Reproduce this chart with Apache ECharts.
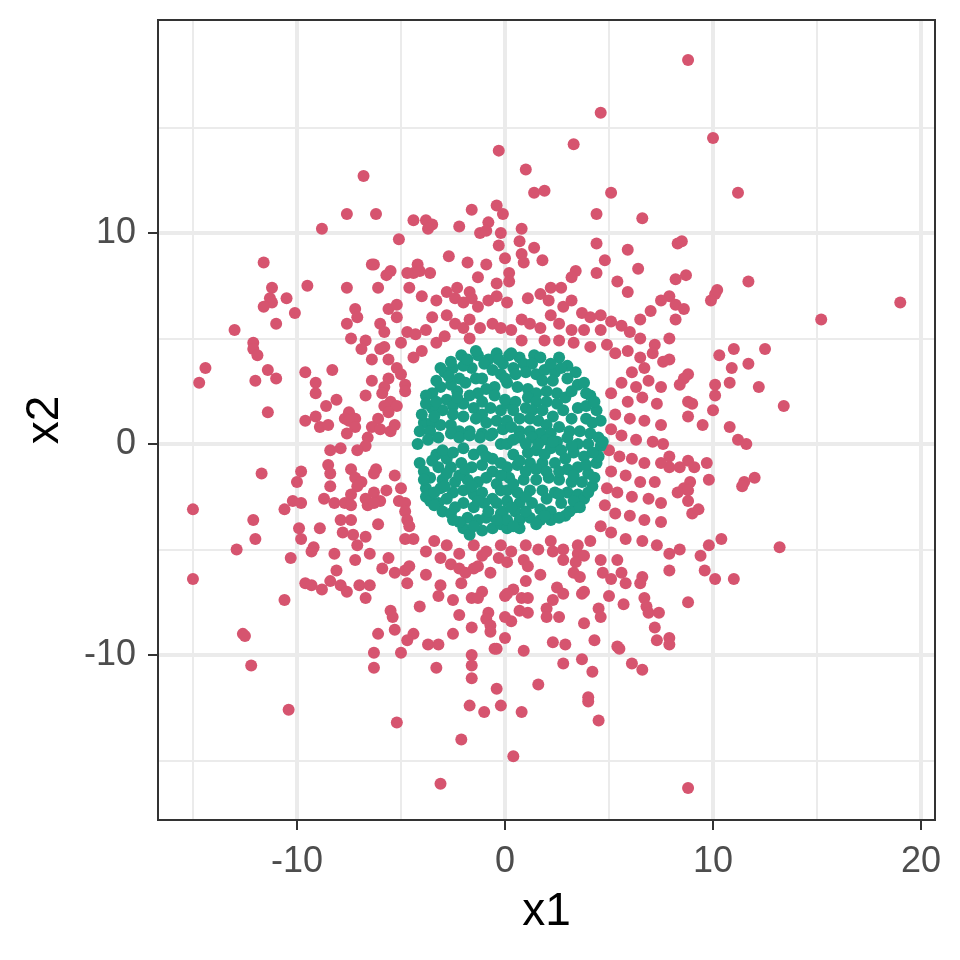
<!DOCTYPE html>
<html><head><meta charset="utf-8">
<script src="https://cdn.jsdelivr.net/npm/echarts@6/dist/echarts.min.js"></script>
<style>html,body{margin:0;padding:0;background:#fff}#c{width:960px;height:960px}</style>
</head><body><div id="c"></div>
<script>
const xTickLabels=[-10,0,10,20];
const yTickLabels=[-10,0,10];
const outerPoints=[
[8.8,18.2],[4.6,15.7],[10.0,14.5],[3.3,14.2],[-0.3,13.9],[1.0,13.0],[-6.8,12.7],[1.4,11.9],[1.9,12.0],[5.1,11.9],[11.2,11.9],[-7.6,10.9],[-6.2,10.9],[-1.6,11.1],[-0.4,11.3],[-0.1,10.9],[4.4,10.9],[6.6,10.7],[-8.8,10.2],[-4.4,10.6],[-3.8,10.6],[-3.5,10.4],[-3.7,10.2],[-2.2,10.3],[-0.8,10.5],[-1.2,10.0],[-0.9,10.1],[-0.2,10.0],[0.8,10.2],[-5.1,9.7],[4.4,9.5],[5.9,9.2],[8.3,9.5],[8.5,9.6],[-0.3,9.4],[0.7,9.6],[1.4,9.3],[4.8,8.7],[6.4,8.3],[4.4,8.1],[5.4,7.7],[8.2,7.8],[8.7,8.0],[11.7,7.7],[10.2,7.3],[0.0,8.8],[0.8,9.0],[0.9,8.6],[1.8,8.7],[-2.7,8.9],[-1.8,8.6],[-0.9,8.5],[-1.3,7.9],[0.2,8.1],[0.2,7.7],[-0.4,7.6],[-4.2,8.5],[-4.1,8.2],[-4.4,8.1],[-3.6,8.1],[-2.3,7.4],[-2.8,7.2],[-1.7,7.2],[2.2,7.4],[2.7,7.4],[3.4,8.2],[3.2,7.9],[5.9,7.2],[-11.6,8.6],[-6.3,8.5],[-6.4,8.5],[-5.5,8.2],[-5.7,8.0],[-4.7,8.1],[-11.2,7.4],[-9.5,7.5],[-7.6,7.4],[-6.1,7.4],[-4.6,7.4],
[-11.3,6.9],[-11.2,6.7],[-11.6,6.5],[-10.5,6.9],[-10.1,6.2],[-11.0,5.7],[-13.0,5.4],[-7.2,6.4],[-7.1,6.0],[-7.6,5.7],[-5.6,6.4],[-5.2,6.6],[-5.2,6.0],[-6.0,5.7],[-5.8,5.3],[-7.4,5.0],[-6.7,4.9],[-6.9,4.5],[-5.8,4.6],[-6.0,4.5],[-5.0,4.8],[-4.7,5.3],[-4.3,5.2],[-6.4,4.0],[-5.6,4.0],[-5.2,3.6],[-5.0,3.3],[-4.4,4.1],[-12.1,4.8],[-12.1,4.5],[-11.9,4.2],[-14.4,3.6],[-14.7,2.9],[-11.4,3.5],[-11.0,3.1],[-12.0,3.0],[-9.6,3.4],[-9.1,2.9],[-9.1,2.4],[-8.3,3.5],[-6.4,3.0],[-5.6,3.1],[-5.8,2.7],[-5.9,2.4],[-4.8,2.8],[-4.8,2.5],[-6.7,2.3],[-8.1,2.1],[-8.6,1.8],[-5.5,2.0],[-5.2,1.8],[-5.8,1.8],[-5.6,1.5],[-11.4,1.5],[-7.5,1.5],[-7.7,1.2],[-7.2,1.2],[-7.5,1.1],[-9.6,1.1],[-9.1,1.3],[-8.9,0.8],[-8.5,0.9],[-6.1,1.2],[-6.4,0.8],[-6.0,0.7],[-5.5,0.6],[-5.3,0.9],[-7.2,0.8],[-7.6,0.5],[-6.6,0.3],[-6.7,-0.1],[-7.1,-0.3],[-8.4,-0.3],[-7.9,-0.2],[-11.7,-1.4],[-9.8,-1.3],[-10.0,-1.8],[-8.5,-1.0],[-8.4,-1.4],[-7.4,-1.2],[-7.2,-1.6],[-6.9,-1.8],[-7.1,-2.0],[-7.4,-2.4],[-6.2,-1.2],[-6.3,-1.4],[-5.3,-1.5],[-8.4,-2.0],[-5.0,-2.1],[-8.7,-2.6],[-8.2,-2.8],[-7.7,-2.8],[-7.4,-2.9],[-6.7,-2.6],[-6.3,-2.3],[-5.7,-2.2],[-6.0,-2.7],[-6.6,-2.9],[-6.3,-2.8],[-10.2,-2.7],[-9.8,-2.8],[-10.6,-3.1],[-15.0,-3.1],[-5.1,-2.7],[-4.8,-2.8],[-4.8,-3.2],[-4.7,-3.6],[-4.6,-3.9],[-12.1,-3.6],[-7.9,-3.6],[-7.4,-3.6],[-6.1,-3.8],[-9.9,-4.0],[-9.8,-4.5],[-8.9,-4.0],[-7.8,-4.2],[-7.3,-4.3],[-6.7,-4.4],[-12.0,-4.5],[-4.8,-4.5],[-4.4,-4.5],[-12.9,-5.0],[-9.2,-4.9],[-8.2,-5.2],[-7.1,-4.8],[-6.5,-5.2],[-7.2,-5.5],[-5.6,-5.4],[-10.3,-5.4],
[7.9,7.0],[8.2,6.6],[8.6,6.4],[8.2,5.9],[10.1,7.1],[9.9,6.8],[15.2,5.9],[19.0,6.7],[7.9,5.0],[7.9,4.0],[10.3,4.2],[11.0,4.5],[12.5,4.5],[11.7,3.8],[10.9,3.6],[10.8,2.9],[12.2,2.7],[8.8,3.3],[8.6,3.1],[8.4,2.8],[10.1,2.8],[10.1,2.3],[10.0,1.6],[13.4,1.8],[8.8,2.0],[9.0,1.9],[8.8,1.3],[9.5,0.9],[10.8,0.8],[11.2,0.2],[11.6,0.0],[7.9,-0.6],[7.9,-1.1],[8.8,-0.8],[9.1,-1.1],[9.7,-0.9],[8.4,-1.1],[8.9,-1.8],[8.6,-2.1],[8.8,-2.2],[8.3,-2.3],[9.8,-1.7],[12.0,-1.6],[11.5,-1.8],[11.4,-2.0],[8.8,-2.7],[9.0,-3.3],[9.3,-3.1],[10.4,-4.5],[9.8,-4.8],[8.4,-5.0],[7.9,-5.2],[9.4,-5.3],[13.2,-4.9],
[-15.0,-6.4],[-9.3,-5.1],[-5.9,-5.9],[-5.3,-6.1],[-4.8,-6.0],[-4.6,-5.8],[-4.7,-6.6],[-9.6,-6.6],[-9.3,-6.7],[-8.8,-6.9],[-8.4,-6.5],[-8.1,-6.0],[-7.9,-6.7],[-7.6,-7.0],[-7.0,-6.7],[-6.5,-6.7],[-6.7,-7.3],[-10.6,-7.4],[-5.5,-7.9],[-5.4,-8.2],[-4.1,-7.7],[-12.6,-9.0],[-12.5,-9.1],[-6.1,-9.0],[-5.3,-8.8],[-4.4,-9.0],[-4.7,-9.3],[-6.3,-9.9],[-5.0,-9.9],[-6.3,-10.6],[-12.2,-10.5],[-10.4,-12.6],[-5.2,-13.2],
[-2.6,-5.7],[-2.2,-5.9],[-1.9,-6.1],[-1.5,-5.9],[-1.3,-5.8],[-0.7,-6.1],[-1.1,-5.3],[-0.3,-5.4],[0.1,-5.6],[0.9,-5.5],[1.1,-5.8],[1.7,-6.2],[2.3,-5.1],[2.8,-5.5],[3.5,-5.2],[3.8,-5.3],[3.4,-5.6],[4.6,-5.5],[4.7,-6.1],[3.3,-6.1],[3.6,-6.3],[5.4,-5.5],[5.6,-6.1],[5.1,-6.4],[5.8,-6.6],[6.6,-6.3],[6.5,-6.6],[7.9,-6.0],[-3.8,-6.2],[-3.1,-6.7],[-3.2,-7.2],[-2.5,-7.4],[-2.1,-6.6],[-1.6,-7.3],[-1.1,-7.0],[-1.3,-7.3],[-2.2,-8.1],[0.0,-7.2],[0.4,-6.9],[0.1,-7.1],[0.8,-7.3],[1.1,-7.3],[1.0,-6.5],[2.5,-6.8],[2.8,-7.1],[2.3,-7.4],[2.0,-7.8],[2.0,-8.2],[2.6,-8.2],[3.7,-7.1],[3.8,-7.0],[5.0,-7.2],[5.7,-7.6],[4.5,-7.8],[4.6,-8.2],[6.7,-7.3],[6.8,-7.7],[6.9,-8.0],[7.4,-8.0],[-0.8,-8.0],[-0.9,-8.3],[-0.7,-8.6],[-0.7,-8.9],[0.0,-8.2],[0.3,-8.4],[0.7,-7.9],[1.1,-8.0],[-1.6,-8.7],[-2.5,-9.0],[-3.7,-9.5],[-3.2,-9.5],[3.8,-8.5],[7.2,-8.7],[0.0,-9.2],[-0.5,-9.7],[-0.4,-9.7],[0.9,-9.8],[2.3,-9.4],[2.9,-9.5],[4.3,-9.3],[7.3,-9.3],[7.9,-9.2],[7.9,-9.5],[5.4,-9.6],[5.5,-9.7],[-1.6,-10.0],[-1.6,-10.5],[-1.6,-11.1],[-3.3,-10.6],[2.8,-10.4],[3.7,-10.2],[4.2,-10.8],[6.1,-10.4],[6.6,-10.7],[1.6,-11.4],[-0.4,-11.6],[-1.7,-12.4],[-1.0,-12.7],[-0.2,-12.4],[0.8,-12.7],[4.0,-12.0],[4.0,-12.2],[4.5,-13.1],[-2.1,-14.0],[0.4,-14.8],[-3.1,-16.1],
[9.6,-6.0],[10.1,-6.4],[11.0,-6.4],[8.8,-7.5],[8.8,-16.3],
[-4.0,7.0],[-3.3,6.8],[-2.4,6.9],[-2.0,6.7],[-1.6,6.9],[-1.3,6.5],[-0.8,6.8],[-0.4,7.0],[0.1,6.7],[1.1,6.9],[1.7,7.1],[2.1,6.8],[2.8,6.5],[3.2,6.8],[3.7,6.2],[4.1,6.0],[4.6,6.1],[5.1,5.8],[5.6,5.6],[6.0,5.3],[6.5,5.0],[7.2,4.7],[7.5,6.8],[7.0,6.3],[6.5,5.9],[-3.5,6.0],[-2.8,6.1],[-2.4,5.7],[-2.0,5.5],[-1.7,5.9],[-1.2,5.5],[-0.6,5.7],[-0.2,5.5],[0.3,5.4],[0.8,5.9],[1.2,5.7],[1.7,5.5],[2.2,6.1],[2.6,5.7],[3.2,5.4],[3.8,5.4],[4.6,5.4],[-3.8,5.4],[-3.3,4.8],[-2.9,5.1],[-1.7,5.0],[0.8,4.9],[1.9,4.9],[2.6,4.9],[3.3,4.8],[4.1,4.6],
[4.9,4.7],[5.3,4.3],[5.9,4.4],[6.5,4.1],[7.1,4.3],[7.6,3.9],[6.7,3.6],[6.1,3.4],[5.6,2.9],[6.3,2.7],[6.9,3.0],[7.5,2.7],[5.1,2.4],[5.9,2.0],[6.6,2.2],[7.3,1.9],[5.3,1.4],[6.0,1.2],[6.7,1.1],[7.5,0.9],[5.1,0.7],[5.6,0.4],[6.3,0.2],[7.1,0.1],[7.6,0.0],[5.0,-0.3],[5.5,-0.6],[6.1,-0.7],[6.7,-0.9],[7.5,-0.9],[5.1,-1.3],[5.8,-1.5],[6.5,-1.8],[7.2,-1.8],[4.9,-2.1],[5.4,-2.3],[6.1,-2.5],[6.9,-2.6],[7.5,-2.8],[4.8,-2.9],[5.3,-3.3],[6.0,-3.4],[6.7,-3.6],[7.5,-3.7],[4.6,-3.9],[5.1,-4.2],[5.8,-4.5],[6.6,-4.6],[7.3,-4.8],
[4.1,-4.6],[3.5,-4.8],[2.8,-5.0],[2.2,-4.6],[1.6,-5.0],[1.0,-4.8],[0.3,-5.1],[-0.2,-4.8],[-0.9,-5.1],[-1.5,-4.8],[-2.2,-5.2],[-2.8,-4.8],[-3.4,-4.6],[-3.8,-5.1],[-3.1,-5.4],[-4.0,4.4]
];
const innerPoints=[
[-1.3,4.2],[-0.8,4.0],[-0.4,4.3],[-0.1,3.8],[-1.6,3.6],[-2.0,3.7],[-2.5,3.6],[-2.9,3.4],[-2.2,3.1],[-1.4,3.1],[-1.1,3.1],[-0.2,3.3],[0.1,2.9],[-0.5,2.7],[-0.9,2.6],[-1.3,2.4],[-1.7,2.3],[-2.3,2.5],[-2.6,2.8],[-3.1,2.7],[-3.5,2.4],[-3.8,2.3],[-2.8,2.1],[-2.5,1.8],[-2.0,1.9],[-1.5,1.7],[-1.1,1.4],[-0.7,1.7],[-0.2,1.6],[0.1,1.9],[-0.4,1.1],[-0.9,1.0],[-1.4,1.2],[-2.0,1.3],[-2.5,1.4],[-3.0,1.6],[-3.5,1.7],[-3.8,1.9],[-3.9,1.0],[-3.5,1.0],[-4.1,0.6],[-3.6,0.6],[-3.1,0.9],[-2.6,0.9],[-2.2,0.6],[-1.7,0.6],[-1.1,0.5],[-0.6,0.5],[-0.1,0.7],[0.1,1.1],[-1.0,3.8],
[0.2,4.2],[0.7,4.1],[1.4,4.2],[1.7,4.1],[0.4,3.6],[0.9,3.8],[1.3,3.8],[0.0,3.1],[0.5,3.3],[1.0,3.4],[1.5,3.3],[1.9,3.5],[2.4,3.4],[1.8,3.0],[2.3,3.0],[3.5,2.8],[1.1,2.6],[0.6,2.7],[1.5,2.4],[2.0,2.5],[2.5,2.4],[1.1,2.2],[0.5,2.0],[0.0,2.1],[1.5,2.0],[2.0,2.0],[2.5,1.9],[3.5,1.7],[3.9,1.8],[1.0,1.7],[0.4,1.6],[1.3,1.6],[1.8,1.6],[2.3,1.3],[1.2,1.2],[0.7,1.2],[1.6,1.1],[2.0,0.9],[2.6,0.8],[3.1,0.6],[3.6,0.6],[4.1,0.5],[4.5,0.3],[0.7,0.6],[1.2,0.6],[1.7,0.5],[2.2,0.5],[0.3,0.8],
[-4.2,0.0],[-3.7,0.2],[-3.2,0.3],[-2.6,0.5],[-2.2,0.3],[-1.7,0.4],[-1.2,0.3],[-0.7,0.4],[-0.2,0.0],[-4.1,-0.9],[-3.9,-1.3],[-3.6,-1.6],[-3.8,-2.1],[-3.8,-2.5],[-3.3,-0.5],[-2.8,-0.7],[-3.0,-0.3],[-2.5,-0.4],[-2.0,-0.2],[-1.5,-0.5],[-1.1,-0.3],[-0.6,-0.7],[-0.2,-0.9],[-3.2,-1.1],[-2.6,-1.1],[-2.1,-0.9],[-1.6,-1.1],[-1.1,-1.0],[-0.6,-1.3],[-3.0,-1.7],[-2.4,-1.8],[-1.8,-1.7],[-1.3,-1.8],[-0.9,-1.6],[-0.4,-1.9],[-3.1,-2.1],[-2.5,-2.3],[-2.0,-2.2],[-1.5,-2.4],[-1.1,-2.3],[-0.6,-2.6],[-0.2,-2.2],[-3.2,-2.8],[-3.0,-3.2],[-2.0,-2.8],[-1.5,-3.0],[-1.0,-2.8],[-0.4,-2.8],[-0.2,-3.3],[-1.8,-3.5],[-1.3,-3.6],[-0.9,-3.5],[-1.1,-4.1],[-0.6,-4.0],[-0.2,-3.8],[-2.0,-4.0],[-1.7,-4.3],[0.1,-4.0],
[0.1,0.0],[0.7,0.3],[1.3,0.3],[2.0,0.2],[2.5,0.1],[3.0,0.3],[3.5,0.0],[4.0,0.0],[4.6,-0.1],[0.4,-0.5],[1.1,-0.4],[1.5,-0.3],[2.2,-0.2],[2.7,-0.3],[3.3,-0.4],[3.8,-0.6],[4.4,-0.9],[0.1,-1.1],[0.6,-1.0],[1.2,-0.9],[1.8,-0.9],[2.4,-0.9],[3.0,-1.2],[3.5,-1.1],[4.0,-1.4],[0.2,-1.6],[0.9,-1.7],[1.5,-1.7],[2.1,-1.6],[2.6,-1.7],[3.2,-1.8],[3.7,-1.8],[4.2,-2.0],[0.1,-2.2],[0.6,-2.3],[1.2,-2.2],[1.8,-2.2],[2.4,-2.3],[3.0,-2.3],[3.5,-2.4],[0.1,-2.7],[0.7,-2.8],[1.3,-2.8],[1.7,-3.1],[2.2,-3.2],[2.7,-2.8],[3.1,-3.2],[3.8,-2.6],[-0.1,-3.2],[0.5,-3.2],[0.1,-3.6],[0.7,-3.6],[1.2,-3.5],[2.2,-3.6],[0.7,-4.0],
[-3.6,-2.7],[-3.4,-2.9],[-3.3,3.0],[-3.1,3.6],[-2.6,3.9],[-2.1,4.2],[-1.4,4.4],[0.3,4.3],[2.6,4.1],[3.0,3.7],[3.4,3.4],[3.8,2.9],[4.1,2.3],[4.4,1.6],[4.6,1.1],[4.7,0.1],[4.5,-0.6],[3.4,-3.0],[2.9,-3.4],[1.7,-3.6],[-2.2,-3.7],[-2.6,-3.3],
[2.9,2.2],[3.2,2.5],[2.8,1.6],[3.2,1.2],[3.9,1.2],[4.2,1.0],[3.0,3.1],[2.7,3.6],[2.2,3.8],[3.9,2.4],[4.3,2.0],
[-3.3,2.0],[-2.7,3.2],[-1.9,2.9],[-0.6,3.5],[-1.8,4.0],[-3.4,1.3],[-4.0,1.4],[-2.3,2.2],[-1.1,2.0],[-0.5,2.3],[-0.3,4.0],
[-3.5,-0.8],[-2.8,-1.4],[-2.2,-1.5],[-1.6,-2.0],[-3.4,-2.3],[-2.8,-2.6],[-2.4,-3.0],[-2.5,-3.6],[-1.3,-2.7],[-0.8,-3.2],[-0.4,-3.6],[-1.5,-3.9],[-3.9,-1.7],[-2.9,-2.0],[-1.9,-1.2],[-0.9,-0.6],[-0.2,-1.5],
[0.4,-1.9],[1.0,-1.3],[1.5,-1.2],[2.0,-1.3],[2.6,-1.3],[3.3,-1.5],[3.9,-1.0],[4.3,-1.6],[4.0,-2.3],[3.3,-2.7],[2.6,-2.4],[2.0,-2.6],[1.0,-2.5],[0.3,-3.0],[1.0,-3.2],[1.5,-3.8],[2.6,-3.5],[1.9,-3.4],[0.4,-3.9],[3.6,-3.0],[0.4,0.2],[1.0,0.0],[1.6,0.0],[2.3,0.1],[3.2,-0.1],[4.2,-0.4],[0.7,-0.8],[1.9,-0.5],[2.9,-0.7]
];
const colorOuter='#D6546F', colorInner='#1A9C84';
const chart=echarts.init(document.getElementById('c'),null,{renderer:'canvas'});
const gridColor='#EBEBEB';
const font='"Liberation Sans", Arial, sans-serif';
function axisCommon(ticks){
  return {type:'value',splitNumber:4,nameLocation:'middle',
    nameTextStyle:{fontSize:46,color:'#000',fontFamily:font},
    axisLine:{show:false,onZero:false},
    splitLine:{show:true,lineStyle:{color:gridColor,width:4}},
    minorTick:{show:false,splitNumber:2},
    minorSplitLine:{show:true,lineStyle:{color:gridColor,width:2}},
    axisTick:{show:true,length:10,lineStyle:{color:'#333333',width:2},customValues:ticks},
    axisLabel:{customValues:ticks,fontSize:36,color:'#4D4D4D',fontFamily:font}};
}
const xa=axisCommon(xTickLabels); xa.min=-16.68; xa.max=20.67; xa.name='x1'; xa.nameGap=69; xa.axisLabel.margin=24;
const ya=axisCommon(yTickLabels); ya.min=-17.82; ya.max=20.09; ya.name='x2'; ya.nameGap=90; ya.nameRotate=90; ya.axisLabel.margin=22;
chart.setOption({
  animation:false,
  backgroundColor:'#ffffff',
  grid:{left:158,top:20,width:777,height:800,show:true,borderColor:'#333333',borderWidth:2,backgroundColor:'transparent',z:5},
  xAxis:xa,
  yAxis:ya,
  series:[
    {type:'scatter',data:outerPoints,symbolSize:12,z:3,itemStyle:{color:colorOuter,opacity:1}},
    {type:'scatter',data:innerPoints,symbolSize:12,z:3,itemStyle:{color:colorInner,opacity:1}}
  ]
});
</script></body></html>
